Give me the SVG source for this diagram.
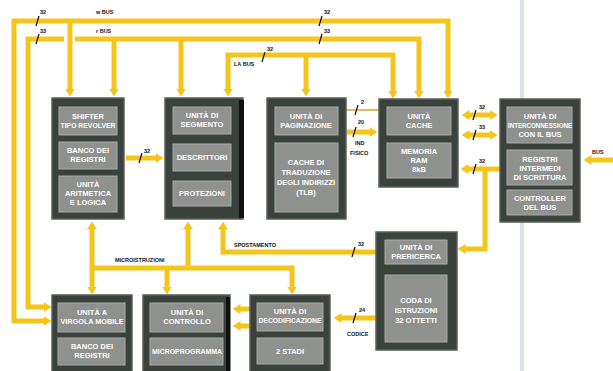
<svg xmlns="http://www.w3.org/2000/svg" width="613" height="371" viewBox="0 0 613 371">
<defs>
<marker id="ah" viewBox="0 0 8 10" refX="0.5" refY="5" markerWidth="8" markerHeight="10" markerUnits="userSpaceOnUse" orient="auto-start-reverse">
<path d="M0,0 L8,5 L0,10 z" fill="#f6c51b"/>
</marker>
<style>
.bus{fill:none;stroke:#f6c51b;stroke-width:5;stroke-linejoin:miter}
.thin{fill:none;stroke:#e0a020;stroke-width:1.5}
.blk{fill:#3b413c;stroke:#596059;stroke-width:1.5}
.pnl{fill:#8f918f;stroke:#a9aba9;stroke-width:1}
.t{font-family:"Liberation Sans",Arial,sans-serif;font-weight:bold;font-size:7.5px;fill:#ffffff;text-anchor:middle}
.lb{font-family:"Liberation Sans",Arial,sans-serif;font-weight:bold;font-size:5.5px;fill:#111111}
.sl{stroke:#111111;stroke-width:1.2}
.grey{stroke:#dde2ea;stroke-width:4}
</style>
</defs>
<rect width="613" height="371" fill="#ffffff"/>
<line class="grey" x1="522" y1="0" x2="522" y2="99"/>
<line class="grey" x1="522" y1="222" x2="522" y2="371"/>

<g id="connectors">
<!-- w BUS -->
<path class="bus" d="M44,321 H14 V21 H448 V91" marker-start="url(#ah)" marker-end="url(#ah)"/>
<!-- r BUS -->
<path class="bus" d="M44,307 H28 V39 H64" marker-start="url(#ah)"/>
<path class="bus" d="M75,39 H419 V91" marker-end="url(#ah)"/>
<!-- drops -->
<path class="bus" d="M70,21 V89" marker-end="url(#ah)"/>
<path class="bus" d="M114,39 V89" marker-end="url(#ah)"/>
<path class="bus" d="M181,39 V89" marker-end="url(#ah)"/>
<!-- LA BUS -->
<path class="bus" d="M228,89 V55 H393 V91" marker-start="url(#ah)" marker-end="url(#ah)"/>
<path class="bus" d="M306,55 V89" marker-end="url(#ah)"/>
<!-- ALU -> segmento -->
<path class="bus" d="M126,158 H156" marker-end="url(#ah)"/>
<!-- paginazione -> cache -->
<line class="thin" x1="346" y1="110" x2="379" y2="110"/>
<path class="bus" d="M347,132 H370" marker-end="url(#ah)"/>
<!-- cache <-> bus unit -->
<path class="bus" d="M469,115 H490" marker-start="url(#ah)" marker-end="url(#ah)"/>
<path class="bus" d="M469,135 H490" marker-start="url(#ah)" marker-end="url(#ah)"/>
<path class="bus" d="M500,169 H468" marker-end="url(#ah)"/>
<path class="bus" d="M485,169 V249 H465" marker-end="url(#ah)"/>
<!-- external BUS -->
<path class="bus" d="M613,160 H591" marker-end="url(#ah)"/>
<!-- SPOSTAMENTO -->
<path class="bus" d="M376,252 H223 V229" marker-end="url(#ah)"/>
<!-- CODICE -->
<path class="bus" d="M376,318 H341" marker-end="url(#ah)"/>
<!-- MICROISTRUZIONI -->
<path class="bus" d="M92,229 V287" marker-start="url(#ah)" marker-end="url(#ah)"/>
<path class="bus" d="M92,268 H292 V287" marker-end="url(#ah)"/>
<path class="bus" d="M188,268 V229" marker-end="url(#ah)"/>
<path class="bus" d="M167,268 V287" marker-end="url(#ah)"/>
<!-- decodificazione -> controllo -->
<path class="bus" d="M251,309 H240" marker-end="url(#ah)"/>
<path class="bus" d="M251,326 H240" marker-end="url(#ah)"/>

<!-- labels -->
<line class="sl" x1="36" y1="26" x2="39" y2="16"/><text class="lb" x="40" y="14">32</text>
<line class="sl" x1="36" y1="44" x2="39" y2="34"/><text class="lb" x="40" y="33">33</text>
<text class="lb" x="96" y="14">w BUS</text>
<text class="lb" x="96" y="33">r BUS</text>
<line class="sl" x1="319" y1="26" x2="322" y2="16"/><text class="lb" x="324" y="14">32</text>
<line class="sl" x1="319" y1="44" x2="322" y2="34"/><text class="lb" x="324" y="33">33</text>
<line class="sl" x1="262" y1="62" x2="265" y2="52"/><text class="lb" x="267" y="51">32</text>
<text class="lb" x="234" y="66">LA BUS</text>
<line class="sl" x1="139" y1="163" x2="142" y2="153"/><text class="lb" x="144" y="153">32</text>
<line class="sl" x1="355" y1="115" x2="358" y2="105"/><text class="lb" x="361" y="104">2</text>
<line class="sl" x1="353" y1="137" x2="356" y2="127"/><text class="lb" x="358" y="124">20</text>
<text class="lb" x="355" y="145">IND</text>
<text class="lb" x="350" y="155">FISICO</text>
<line class="sl" x1="473" y1="120" x2="476" y2="110"/><text class="lb" x="479" y="109">32</text>
<line class="sl" x1="473" y1="140" x2="476" y2="130"/><text class="lb" x="479" y="129">33</text>
<line class="sl" x1="473" y1="174" x2="476" y2="164"/><text class="lb" x="479" y="163">32</text>
<text class="lb" x="592" y="154">BUS</text>
<text class="lb" x="234" y="247">SPOSTAMENTO</text>
<line class="sl" x1="352" y1="257" x2="355" y2="247"/><text class="lb" x="358" y="246">32</text>
<line class="sl" x1="353" y1="323" x2="356" y2="313"/><text class="lb" x="359" y="312">24</text>
<text class="lb" x="347" y="336">CODICE</text>
<text class="lb" x="115" y="262">MICROISTRUZIONI</text>
</g>

<g id="alu">
<rect class="blk" x="52" y="98" width="72" height="121"/>
<rect class="pnl" x="59" y="107" width="58" height="28"/>
<rect class="pnl" x="59" y="142" width="58" height="27"/>
<rect class="pnl" x="59" y="176" width="58" height="36"/>
<text class="t" x="88" y="119">SHIFTER</text>
<text class="t" x="88" y="128" textLength="55" lengthAdjust="spacingAndGlyphs">TIPO REVOLVER</text>
<text class="t" x="88" y="153">BANCO DEI</text>
<text class="t" x="88" y="162">REGISTRI</text>
<text class="t" x="88" y="187">UNITÀ</text>
<text class="t" x="88" y="196">ARITMETICA</text>
<text class="t" x="88" y="205">E LOGICA</text>
</g>

<g id="segmento">
<rect class="blk" x="165" y="98" width="78" height="121"/>
<rect x="239" y="100" width="5" height="118" fill="#111"/>
<rect class="pnl" x="173" y="107" width="58" height="27"/>
<rect class="pnl" x="173" y="144" width="58" height="27"/>
<rect class="pnl" x="173" y="181" width="58" height="25"/>
<text class="t" x="202" y="118">UNITÀ DI</text>
<text class="t" x="202" y="127">SEGMENTO</text>
<text class="t" x="202" y="160">DESCRITTORI</text>
<text class="t" x="202" y="196">PROTEZIONI</text>
</g>

<g id="paginazione">
<rect class="blk" x="267" y="98" width="79" height="121"/>
<rect class="pnl" x="275" y="107" width="63" height="28"/>
<rect class="pnl" x="275" y="143" width="63" height="69"/>
<text class="t" x="306" y="119">UNITÀ DI</text>
<text class="t" x="306" y="128">PAGINAZIONE</text>
<text class="t" x="306" y="165">CACHE DI</text>
<text class="t" x="306" y="175">TRADUZIONE</text>
<text class="t" x="306" y="185" textLength="58" lengthAdjust="spacingAndGlyphs">DEGLI INDIRIZZI</text>
<text class="t" x="306" y="195">(TLB)</text>
</g>

<g id="cache">
<rect class="blk" x="379" y="99" width="79" height="88"/>
<rect class="pnl" x="387" y="107" width="64" height="28"/>
<rect class="pnl" x="387" y="143" width="64" height="35"/>
<text class="t" x="419" y="119">UNITÀ</text>
<text class="t" x="419" y="128">CACHE</text>
<text class="t" x="419" y="154">MEMORIA</text>
<text class="t" x="419" y="163">RAM</text>
<text class="t" x="419" y="172">8kB</text>
</g>

<g id="interconnessione">
<rect class="blk" x="500" y="99" width="80" height="123"/>
<rect class="pnl" x="507" y="107" width="65" height="36"/>
<rect class="pnl" x="507" y="150" width="65" height="35"/>
<rect class="pnl" x="507" y="190" width="65" height="25"/>
<text class="t" x="540" y="119">UNITÀ DI</text>
<text class="t" x="540" y="128" textLength="64" lengthAdjust="spacingAndGlyphs">INTERCONNESSIONE</text>
<text class="t" x="540" y="137">CON IL BUS</text>
<text class="t" x="540" y="162">REGISTRI</text>
<text class="t" x="540" y="171">INTERMEDI</text>
<text class="t" x="540" y="180">DI SCRITTURA</text>
<text class="t" x="540" y="201">CONTROLLER</text>
<text class="t" x="540" y="210">DEL BUS</text>
</g>

<g id="prericerca">
<rect class="blk" x="376" y="232" width="81" height="118"/>
<rect class="pnl" x="385" y="240" width="62" height="24"/>
<rect class="pnl" x="385" y="275" width="62" height="67"/>
<text class="t" x="416" y="250">UNITÀ DI</text>
<text class="t" x="416" y="259">PRERICERCA</text>
<text class="t" x="416" y="303">CODA DI</text>
<text class="t" x="416" y="313">ISTRUZIONI</text>
<text class="t" x="416" y="323">32 OTTETTI</text>
</g>

<g id="virgola">
<rect class="blk" x="52" y="295" width="80" height="84"/>
<rect class="pnl" x="58" y="303" width="67" height="29"/>
<rect class="pnl" x="58" y="338" width="67" height="27"/>
<text class="t" x="92" y="315">UNITÀ A</text>
<text class="t" x="92" y="324" textLength="63" lengthAdjust="spacingAndGlyphs">VIRGOLA MOBILE</text>
<text class="t" x="92" y="349">BANCO DEI</text>
<text class="t" x="92" y="358">REGISTRI</text>
</g>

<g id="controllo">
<rect class="blk" x="143" y="295" width="87" height="84"/>
<rect x="226" y="297" width="4" height="80" fill="#111"/>
<rect class="pnl" x="150" y="303" width="73" height="29"/>
<rect class="pnl" x="150" y="338" width="73" height="27"/>
<text class="t" x="187" y="315">UNITÀ DI</text>
<text class="t" x="187" y="324">CONTROLLO</text>
<text class="t" x="187" y="354" textLength="70" lengthAdjust="spacingAndGlyphs">MICROPROGRAMMA</text>
</g>

<g id="decodificazione">
<rect class="blk" x="250" y="295" width="80" height="84"/>
<rect class="pnl" x="257" y="303" width="66" height="28"/>
<rect class="pnl" x="257" y="338" width="66" height="26"/>
<text class="t" x="290" y="314">UNITÀ DI</text>
<text class="t" x="290" y="323" textLength="63" lengthAdjust="spacingAndGlyphs">DECODIFICAZIONE</text>
<text class="t" x="290" y="354">2 STADI</text>
</g>
</svg>
